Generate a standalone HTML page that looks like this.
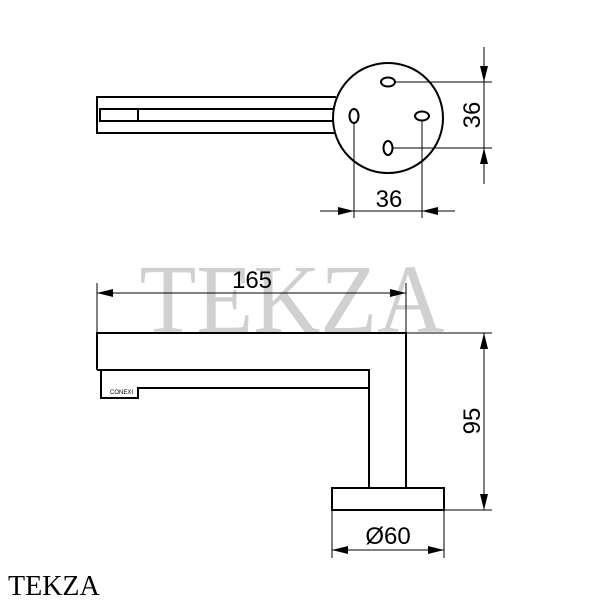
<!DOCTYPE html>
<html><head><meta charset="utf-8"><style>body{margin:0;background:#fff}svg{display:block}</style></head>
<body>
<svg width="600" height="600" viewBox="0 0 600 600" xmlns="http://www.w3.org/2000/svg">
<text x="292" y="332" font-family="Liberation Serif, serif" font-size="98" fill="#d0d0d0" text-anchor="middle" textLength="305" lengthAdjust="spacingAndGlyphs">TEKZA</text>
<g fill="none" stroke="#000" stroke-width="2">
<path d="M336 97 H97 V133 H336"/>
<rect x="100" y="109" width="234" height="12"/>
<line x1="138" y1="109" x2="138" y2="121"/>
<circle cx="388" cy="118" r="55" fill="#fff"/>
<ellipse cx="388" cy="82" rx="7" ry="4.5"/>
<ellipse cx="354" cy="116" rx="4.5" ry="7"/>
<ellipse cx="422" cy="116" rx="7" ry="4.5"/>
<ellipse cx="388" cy="148" rx="4.5" ry="7"/>
<path d="M97 370 V333 H406 V488"/>
<path d="M97 370 H369 V488"/>
<path d="M101 370 V398 H138 V388 H369"/>
<rect x="332" y="488" width="112" height="22"/>
</g>
<text x="110" y="394" font-family="Liberation Sans, sans-serif" font-size="6">CONEXI</text>
<g fill="none" stroke="#000" stroke-width="1">
<line x1="395" y1="82" x2="492" y2="82"/>
<line x1="392" y1="148" x2="492" y2="148"/>
<line x1="484" y1="47" x2="484" y2="184"/>
<line x1="354" y1="123" x2="354" y2="218"/>
<line x1="422" y1="120" x2="422" y2="218"/>
<line x1="320" y1="211" x2="455" y2="211"/>
<line x1="97" y1="283" x2="97" y2="333"/>
<line x1="406" y1="283" x2="406" y2="333"/>
<line x1="97" y1="293" x2="406" y2="293"/>
<line x1="406" y1="333" x2="492" y2="333"/>
<line x1="444" y1="510" x2="492" y2="510"/>
<line x1="484" y1="333" x2="484" y2="510"/>
<line x1="332" y1="510" x2="332" y2="558"/>
<line x1="444" y1="510" x2="444" y2="558"/>
<line x1="332" y1="550" x2="444" y2="550"/>
</g>
<g fill="#000">
<polygon points="484,82 480,66 488,66"/>
<polygon points="484,148 480,164 488,164"/>
<polygon points="354,211 338,207 338,215"/>
<polygon points="422,211 438,207 438,215"/>
<polygon points="97,293 113,289 113,297"/>
<polygon points="406,293 390,289 390,297"/>
<polygon points="484,333 480,349 488,349"/>
<polygon points="484,510 480,494 488,494"/>
<polygon points="332,550 348,546 348,554"/>
<polygon points="444,550 428,546 428,554"/>
</g>
<g font-family="Liberation Sans, sans-serif" font-size="24" fill="#000" text-anchor="middle">
<text x="389" y="207">36</text>
<text transform="translate(480,115) rotate(-90)">36</text>
<text x="252" y="288">165</text>
<text transform="translate(480,421) rotate(-90)">95</text>
<text x="388" y="544">Ø60</text>
</g>
<text x="8" y="595" font-family="Liberation Serif, serif" font-size="28" fill="#000">TEKZA</text>
</svg>
</body></html>
